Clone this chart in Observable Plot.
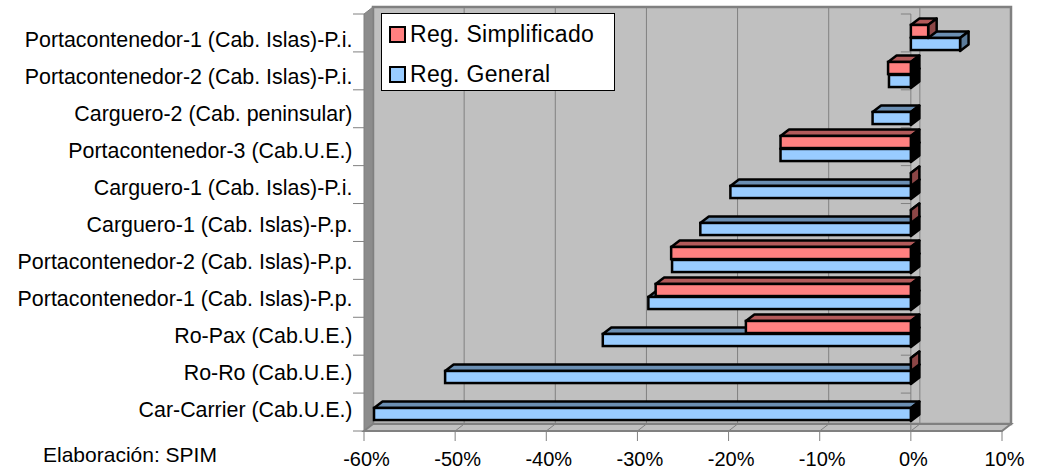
<!DOCTYPE html>
<html><head><meta charset="utf-8">
<script src="https://cdn.jsdelivr.net/npm/d3@7"></script>
<script src="https://cdn.jsdelivr.net/npm/@observablehq/plot@0.6"></script>
<style>
html,body{margin:0;padding:0;background:#fff;}
#wrap{position:relative;width:1042px;height:471px;font-family:"Liberation Sans",Arial,sans-serif;color:#000;}
#legend{position:absolute;left:381px;top:13px;width:234px;height:78px;background:#fff;border:1.5px solid #000;box-sizing:border-box;}
.item{position:absolute;left:7px;height:20px;display:flex;align-items:center;font-size:23px;letter-spacing:0.3px;white-space:nowrap;}
.sw{width:17px;height:17px;box-sizing:border-box;border:2.5px solid #000;margin-right:4px;}
#caption{position:absolute;left:43px;top:443px;font-size:21px;white-space:nowrap;}
</style></head>
<body><div id="wrap"><div id="chart"></div>
<div id="legend"></div>
<div id="caption"></div></div>
<script>
const categories = [
  "Portacontenedor-1 (Cab. Islas)-P.i.",
  "Portacontenedor-2 (Cab. Islas)-P.i.",
  "Carguero-2 (Cab. peninsular)",
  "Portacontenedor-3 (Cab.U.E.)",
  "Carguero-1 (Cab. Islas)-P.i.",
  "Carguero-1 (Cab. Islas)-P.p.",
  "Portacontenedor-2 (Cab. Islas)-P.p.",
  "Portacontenedor-1 (Cab. Islas)-P.p.",
  "Ro-Pax (Cab.U.E.)",
  "Ro-Ro (Cab.U.E.)",
  "Car-Carrier (Cab.U.E.)"
];
const simplificado = [1.9, -2.5, null, -14.3, 0, 0, -26.3, -28.0, -18.1, 0, null];
const general = [5.4, -2.4, -4.2, -14.3, -19.8, -23.1, -26.2, -28.8, -33.8, -51.1, -58.9];
const seriesNames = ["Reg. Simplificado", "Reg. General"];
const xTicks = [-60, -50, -40, -30, -20, -10, 0, 10];
const caption = "Elaboración: SPIM";

const W = 1042, H = 471, MT = 14, MB = 40, ML = 364, MR = 40;
const step = (H - MT - MB) / categories.length;
const BH = 13, DX = 8.5, DY = -6.5, WX = 9, WY = -7;
const style = {
  [seriesNames[0]]: {front: "#FF8080", top: "#B35A5A", side: "#8C4646", upper: true},
  [seriesNames[1]]: {front: "#99CCFF", top: "#6B8FB3", side: "#5A7A99", upper: false}
};

const rowsS = categories.map((c, i) => ({cat: c, series: seriesNames[0], value: simplificado[i]})).filter(d => d.value != null);
const rowsG = categories.map((c, i) => ({cat: c, series: seriesNames[1], value: general[i]})).filter(d => d.value != null);

function background(index, scales, values, dim) {
  const {x} = scales;
  const g = d3.create("svg:g");
  const x0 = x(xTicks[0]), x1 = x(xTicks[xTicks.length - 1]);
  const top = MT, bot = H - MB;
  g.append("rect").attr("x", x0 + WX).attr("y", top + WY).attr("width", x1 - x0).attr("height", bot - top)
    .attr("fill", "#C0C0C0").attr("stroke", "#808080").attr("stroke-width", 2.5);
  for (const t of xTicks.slice(1, -1)) {
    g.append("line").attr("x1", x(t) + WX).attr("x2", x(t) + WX).attr("y1", top + WY).attr("y2", bot + WY)
      .attr("stroke", "#808080").attr("stroke-width", 1);
  }
  g.append("path").attr("d", `M${x0},${top}L${x0 + WX},${top + WY}L${x0 + WX},${bot + WY}L${x0},${bot}Z`)
    .attr("fill", "#8C8C8C").attr("stroke", "#808080").attr("stroke-width", 1);
  g.append("path").attr("d", `M${x0},${bot}L${x1},${bot}L${x1 + WX},${bot + WY}L${x0 + WX},${bot + WY}Z`)
    .attr("fill", "#C0C0C0").attr("stroke", "#808080").attr("stroke-width", 2);
  for (const t of xTicks) {
    g.append("line").attr("x1", x(t)).attr("x2", x(t) + WX).attr("y1", bot).attr("y2", bot + WY)
      .attr("stroke", "#808080").attr("stroke-width", 1);
    g.append("line").attr("x1", x(t)).attr("x2", x(t)).attr("y1", bot).attr("y2", bot + 10)
      .attr("stroke", "#808080").attr("stroke-width", 1);
  }
  const z = x(0);
  g.append("line").attr("x1", z).attr("x2", z).attr("y1", top).attr("y2", bot).attr("stroke", "#808080").attr("stroke-width", 1);
  for (let k = 0; k <= categories.length; k++) {
    const yy = top + k * step;
    g.append("line").attr("x1", z - 10).attr("x2", z).attr("y1", yy).attr("y2", yy).attr("stroke", "#808080").attr("stroke-width", 1);
    g.append("line").attr("x1", x0 - 11).attr("x2", x0).attr("y1", yy).attr("y2", yy).attr("stroke", "#808080").attr("stroke-width", 1);
  }
  return g.node();
}

function faces(rows) {
  return (index, scales) => {
    const {x, y} = scales;
    const g = d3.create("svg:g").attr("stroke", "#000").attr("stroke-width", 2.5).attr("stroke-linejoin", "round");
    for (const r of rows) {
      const st = style[r.series];
      const split = y(r.cat) + step / 2;
      const t = st.upper ? split - BH : split, b = st.upper ? split : split + BH;
      const a = x(Math.min(0, r.value)), e = x(Math.max(0, r.value));
      g.append("path").attr("d", `M${a},${t}L${e},${t}L${e + DX},${t + DY}L${a + DX},${t + DY}Z`).attr("fill", st.top);
      g.append("path").attr("d", `M${e},${t}L${e + DX},${t + DY}L${e + DX},${b + DY}L${e},${b}Z`)
        .attr("fill", r.value < 0 ? "#000" : st.side);
    }
    return g.node();
  };
}

function front(rows, upper) {
  const st = style[rows[0].series];
  return Plot.barX(rows, {
    x1: d => 0, x2: "value", y: "cat",
    fill: st.front, stroke: "#000", strokeWidth: 2.5,
    insetTop: upper ? step / 2 - BH : step / 2,
    insetBottom: upper ? step / 2 : step / 2 - BH
  });
}

const chart = Plot.plot({
  width: W, height: H,
  marginTop: MT, marginBottom: MB, marginLeft: ML, marginRight: MR,
  style: {fontFamily: '"Liberation Sans", Arial, sans-serif', fontSize: "20px", color: "#000", background: "#fff"},
  x: {domain: [xTicks[0], xTicks[xTicks.length - 1]], axis: null},
  y: {domain: categories, padding: 0, axis: null},
  marks: [
    background,
    faces(rowsG),
    front(rowsG, false),
    faces(rowsS),
    front(rowsS, true),
    Plot.text(categories, {y: d => d, frameAnchor: "left", textAnchor: "end", dx: -12, dy: 2, fontSize: 21.4, fill: "#000", text: d => d}),
    Plot.text(xTicks, {x: d => d, frameAnchor: "bottom", dx: 2, dy: 34, fontSize: 20, fill: "#000", text: d => d + "%"})
  ]
});
document.getElementById("chart").appendChild(chart);

const leg = document.getElementById("legend");
seriesNames.forEach((n, i) => {
  const it = document.createElement("div");
  it.className = "item";
  it.style.top = (i === 0 ? 10 : 50) + "px";
  const sw = document.createElement("div");
  sw.className = "sw";
  sw.style.background = style[n].front;
  const tx = document.createElement("span");
  tx.textContent = n;
  it.appendChild(sw); it.appendChild(tx);
  leg.appendChild(it);
});
document.getElementById("caption").textContent = caption;
</script>
</body></html>
